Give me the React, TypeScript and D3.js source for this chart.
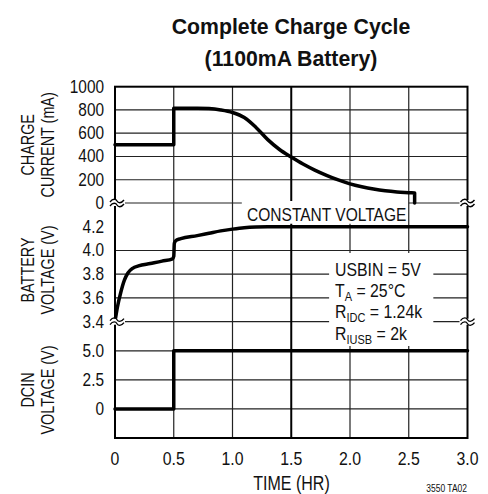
import * as d3 from 'd3'
import type { ReactNode } from 'react'

// tick values
const timeTicks = [0, 0.5, 1.0, 1.5, 2.0, 2.5, 3.0]
const currentTicks = [0, 200, 400, 600, 800, 1000]
const batteryTicks = [3.4, 3.6, 3.8, 4.0, 4.2]
const dcinTicks = [0, 2.5, 5.0]

// charge current (mA) vs time (hr)
const chargeTime = [0, 0.5, 0.5, 0.6, 0.7, 0.8, 0.9, 1.0, 1.1, 1.2, 1.3, 1.4, 1.5, 1.6, 1.7, 1.8, 1.9, 2.0, 2.1, 2.2, 2.3, 2.4, 2.5, 2.55, 2.55]
const chargeCurrent = [500, 500, 815, 815, 815, 812, 800, 778, 735, 650, 545, 460, 395, 335, 283, 238, 198, 165, 140, 120, 105, 95, 89, 86, 0]

// battery voltage (V)
const batteryTime = [0, 0.02, 0.05, 0.08, 0.11, 0.15, 0.2, 0.3, 0.4, 0.49, 0.5, 0.505, 0.52, 0.56, 0.7, 0.8, 0.9, 1.0, 1.1, 1.2, 1.3, 3.0]
const batteryVoltage = [3.4, 3.52, 3.65, 3.75, 3.81, 3.85, 3.87, 3.89, 3.91, 3.93, 3.95, 4.06, 4.085, 4.1, 4.125, 4.145, 4.165, 4.18, 4.192, 4.198, 4.2, 4.2]

// DCIN voltage (V)
const dcinTime = [0, 0.5, 0.5, 3.0]
const dcinVoltage = [0, 0, 5, 5]

const FONT = '"Liberation Sans", Arial, Helvetica, sans-serif'

const left = 115
const right = 467.5
const yTop = 86.7
const yBrk1 = 203
const yBrk2 = 321.7
const yBottom = 438

const x = d3.scaleLinear().domain([0, 3]).range([left, right])
const yCur = d3.scaleLinear().domain([0, 1000]).range([yBrk1, yTop])
const yBat = d3.scaleLinear().domain([3.4, 4.4]).range([yBrk2, yBrk1])
const yDc = d3.scaleLinear().domain([-2.5, 7.5]).range([yBottom, yBrk2])

// split a series at vertical jumps so each smooth run has increasing x
function seriesPath(xs: number[], ys: number[], ys2: d3.ScaleLinear<number, number>) {
  const pts: [number, number][] = xs.map((t, i) => [x(t), ys2(ys[i])])
  const runs: [number, number][][] = [[pts[0]]]
  for (let i = 1; i < pts.length; i++) {
    if (xs[i] === xs[i - 1]) {
      runs.push([pts[i - 1], pts[i]])
      runs.push([pts[i]])
    } else {
      runs[runs.length - 1].push(pts[i])
    }
  }
  const line = d3.line().curve(d3.curveMonotoneX)
  return runs.filter((r) => r.length > 1).map((r) => line(r)).join('')
}

// condensed text: the reference uses a narrow face, so squeeze Liberation Sans
interface TProps {
  x: number
  y: number
  sx?: number
  rot?: number
  size: number
  anchor?: string
  bold?: boolean
  children: ReactNode
}
const T = ({ x, y, sx = 0.82, rot, size, anchor = 'start', bold, children }: TProps) => (
  <text
    transform={`translate(${x},${y})${rot ? ` rotate(${rot})` : ''} scale(${sx},1)`}
    fontSize={size}
    textAnchor={anchor}
    fontWeight={bold ? 'bold' : 'normal'}
    fill="#111"
  >
    {children}
  </text>
)

const Break = ({ cx, cy }: { cx: number; cy: number }) => (
  <g transform={`translate(${cx},${cy})`}>
    <rect x={-8} y={-3} width={16} height={6} fill="#fff" />
    <path d="M-7,-1 C-4,-5 -1,-4 0,-2 C1,0 4,1 7,-3" fill="none" stroke="#000" strokeWidth={1.3} />
    <path d="M-7,3 C-4,-1 -1,0 0,2 C1,4 4,5 7,1" fill="none" stroke="#000" strokeWidth={1.3} />
  </g>
)

export default function App() {
  const grid = '#222'
  const hLines = [
    ...currentTicks.slice(1, -1).map((v) => ({ y: yCur(v), x0: left, x1: right })),
    { y: yBrk1, x0: left, x1: x(1.08) },
    { y: yBrk1, x0: x(2.5), x1: right },
    ...batteryTicks.filter((v) => v === 4.0).map((v) => ({ y: yBat(v), x0: left, x1: right })),
    ...batteryTicks.filter((v) => v < 3.9).flatMap((v) => [
      { y: yBat(v), x0: left, x1: x(1.824) },
      { y: yBat(v), x0: x(2.708), x1: right },
    ]),
    ...dcinTicks.map((v) => ({ y: yDc(v), x0: left, x1: right })),
  ]
  const vLines = timeTicks.slice(1, -1)
  return (
    <svg width={488} height={494} style={{ position: 'absolute', left: 0, top: 0, background: '#fff' }} fontFamily={FONT}>
      <T x={291} y={34} size={22.5} sx={0.945} anchor="middle" bold>Complete Charge Cycle</T>
      <T x={291} y={66} size={22.5} sx={0.945} anchor="middle" bold>(1100mA Battery)</T>

      {hLines.map((l, i) => (
        <line key={'h' + i} x1={l.x0} x2={l.x1} y1={l.y} y2={l.y} stroke={grid} strokeWidth={1.2} />
      ))}
      {vLines.map((t) => (
        <line key={'v' + t} x1={x(t)} x2={x(t)} y1={yTop} y2={yBottom} stroke={t === 1.5 ? '#000' : grid} strokeWidth={t === 1.5 ? 2 : 1.2} />
      ))}

      {/* label boxes */}
      <rect x={x(1.08)} y={yBrk1 - 2} width={x(2.5) - x(1.08) - 1} height={yBat(4.2) - yBrk1 - 1} fill="#fff" />
      <T x={247} y={220.5} size={18.5} sx={0.84}>CONSTANT VOLTAGE</T>
      <rect x={x(1.824)} y={253} width={x(2.708) - x(1.824)} height={93} fill="#fff" />
      <T x={335} y={276} size={18} sx={0.88}>USBIN = 5V</T>
      <T x={335} y={297} size={18} sx={0.88}>T<tspan fontSize={12.5} dy={4}>A</tspan><tspan dy={-4}> = 25°C</tspan></T>
      <T x={335} y={318} size={18} sx={0.88}>R<tspan fontSize={12.5} dy={4}>IDC</tspan><tspan dy={-4}> = 1.24k</tspan></T>
      <T x={335} y={340} size={18} sx={0.88}>R<tspan fontSize={12.5} dy={4}>IUSB</tspan><tspan dy={-4}> = 2k</tspan></T>

      {/* frame */}
      <rect x={left} y={yTop} width={right - left} height={yBottom - yTop} fill="none" stroke="#000" strokeWidth={2} />

      {/* data */}
      <g fill="none" stroke="#000" strokeWidth={3.5} strokeLinecap="round" strokeLinejoin="round">
        <path d={seriesPath(chargeTime, chargeCurrent, yCur)} />
        <path d={seriesPath(batteryTime, batteryVoltage, yBat)} />
        <path d={seriesPath(dcinTime, dcinVoltage, yDc)} />
      </g>

      <Break cx={left + 2} cy={yBrk1} />
      <Break cx={left + 2} cy={yBrk2} />
      <Break cx={right} cy={yBrk1} />
      <Break cx={right} cy={yBrk2} />

      {/* y tick labels */}
      {currentTicks.map((v) => (
        <T key={'c' + v} x={104} y={yCur(v) + 6} size={17.5} sx={0.88} anchor="end">{v}</T>
      ))}
      {batteryTicks.map((v) => (
        <T key={'b' + v} x={104} y={yBat(v) + 6} size={17.5} sx={0.88} anchor="end">{v.toFixed(1)}</T>
      ))}
      {dcinTicks.map((v) => (
        <T key={'d' + v} x={104} y={yDc(v) + 6} size={17.5} sx={0.88} anchor="end">{v === 0 ? '0' : v.toFixed(1)}</T>
      ))}

      {/* x tick labels */}
      {timeTicks.map((t) => (
        <T key={'t' + t} x={x(t)} y={465} size={18} sx={0.88} anchor="middle">{t === 0 ? '0' : t.toFixed(1)}</T>
      ))}
      <T x={291.5} y={490} size={20} sx={0.8} anchor="middle">TIME (HR)</T>
      <T x={467} y={492} size={10} sx={0.85} anchor="end">3550 TA02</T>

      {/* y axis titles */}
      <T x={34} y={(yTop + yBrk1) / 2} rot={-90} size={18} sx={0.8} anchor="middle">CHARGE</T>
      <T x={54} y={(yTop + yBrk1) / 2} rot={-90} size={18} sx={0.8} anchor="middle">CURRENT (mA)</T>
      <T x={34} y={270} rot={-90} size={18} sx={0.8} anchor="middle">BATTERY</T>
      <T x={54} y={270} rot={-90} size={18} sx={0.8} anchor="middle">VOLTAGE (V)</T>
      <T x={34} y={390} rot={-90} size={18} sx={0.8} anchor="middle">DCIN</T>
      <T x={54} y={390} rot={-90} size={18} sx={0.8} anchor="middle">VOLTAGE (V)</T>
    </svg>
  )
}
